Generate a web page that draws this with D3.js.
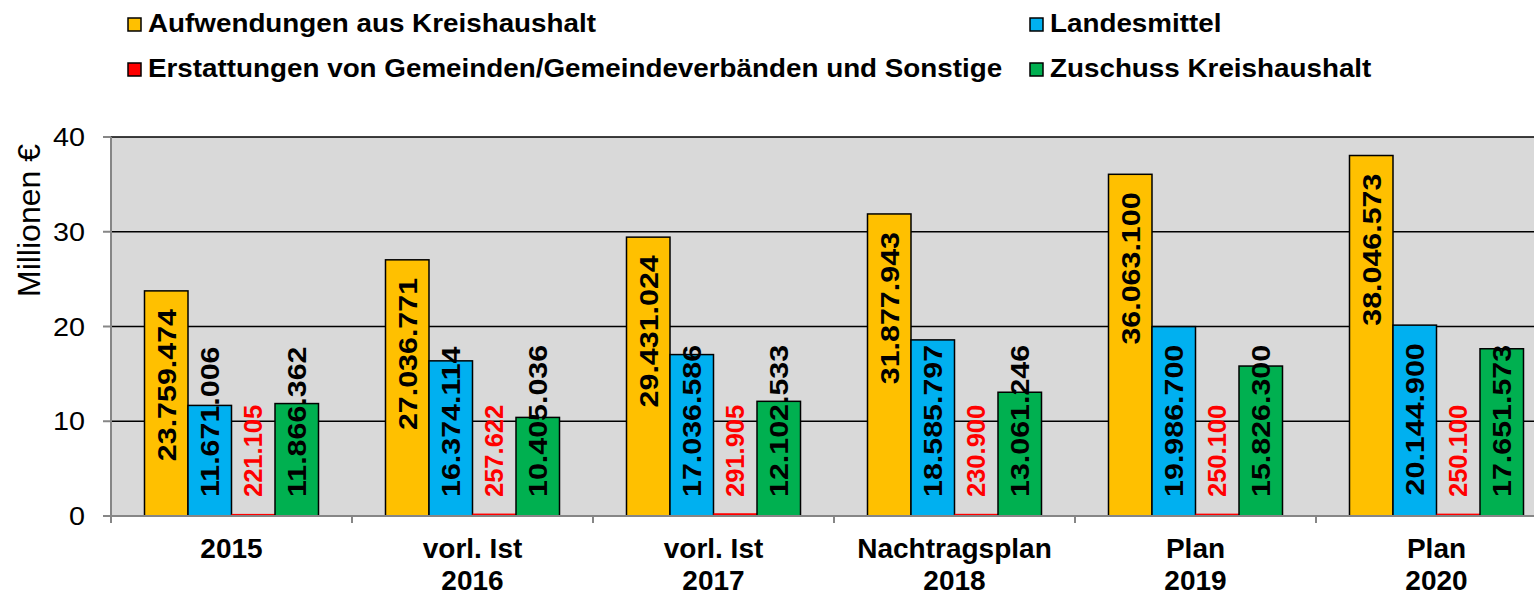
<!DOCTYPE html>
<html>
<head>
<meta charset="utf-8">
<script src="https://cdn.jsdelivr.net/npm/d3@7"></script>
<style>
  body { margin: 0; background: #fff; }
  text { font-family: Arial, "Liberation Sans", sans-serif; }
</style>
</head>
<body>
<div id="chart"></div>
<script>
const categories = [['2015'], ['vorl. Ist', '2016'], ['vorl. Ist', '2017'], ['Nachtragsplan', '2018'], ['Plan', '2019'], ['Plan', '2020']];
const seriesNames = ['Aufwendungen aus Kreishaushalt', 'Landesmittel', 'Erstattungen von Gemeinden/Gemeindeverbänden und Sonstige', 'Zuschuss Kreishaushalt'];
const seriesColors = ['#FFC000', '#00B0F0', '#FF0000', '#00B050'];
const aufwendungen = [23759474, 27036771, 29431024, 31877943, 36063100, 38046573];
const landesmittel = [11671006, 16374114, 17036586, 18585797, 19986700, 20144900];
const erstattungen = [221105, 257622, 291905, 230900, 250100, 250100];
const zuschuss = [11866362, 10405036, 12102533, 13061246, 15826300, 17651573];
const yTicks = [0, 10, 20, 30, 40];

const seriesValues = [aufwendungen, landesmittel, erstattungen, zuschuss];

const width = 1534, height = 595;
const plot = { left: 111, top: 137, bottom: 516, step: 241 };

const svg = d3.select('#chart').append('svg')
  .attr('width', width)
  .attr('height', height);

const catKeys = categories.map((c, i) => i);

const x0 = d3.scaleBand()
  .domain(catKeys)
  .range([plot.left, plot.left + plot.step * categories.length])
  .padding(0);

const x1 = d3.scaleBand()
  .domain(d3.range(seriesNames.length))
  .range([0, x0.bandwidth()])
  .paddingInner(0)
  .paddingOuter(0.77);

const y = d3.scaleLinear()
  .domain([0, 40])
  .range([plot.bottom, plot.top]);

const fmt = d3.formatLocale({ decimal: ',', thousands: '.', grouping: [3], currency: ['', ' €'] }).format(',d');

// plot background
svg.append('rect')
  .attr('x', plot.left)
  .attr('y', plot.top)
  .attr('width', width - plot.left)
  .attr('height', plot.bottom - plot.top)
  .attr('fill', '#D9D9D9');

// gridlines
svg.append('g')
  .selectAll('line')
  .data(yTicks.filter(d => d > 0))
  .enter()
  .append('line')
  .attr('x1', plot.left)
  .attr('x2', width)
  .attr('y1', d => y(d))
  .attr('y2', d => y(d))
  .attr('stroke', '#000')
  .attr('stroke-width', 1.5);

// bars
const groups = svg.append('g')
  .selectAll('g')
  .data(catKeys)
  .enter()
  .append('g')
  .attr('transform', d => `translate(${x0(d)},0)`);

groups.selectAll('rect')
  .data(ci => seriesValues.map((vals, si) => ({ si, v: vals[ci] / 1e6 })))
  .enter()
  .append('rect')
  .attr('x', d => x1(d.si))
  .attr('y', d => y(d.v))
  .attr('width', x1.bandwidth())
  .attr('height', d => y(0) - y(d.v))
  .attr('fill', d => seriesColors[d.si])
  .attr('stroke', d => d.si === 2 ? 'none' : '#000')
  .attr('stroke-width', 1.5);

// value labels, rotated
groups.each(function (ci) {
  const g = d3.select(this);
  seriesValues.forEach((vals, si) => {
    const red = si === 2;
    const fs = red ? 25 : 26;
    const sx = red ? 1.02 : 1.17;
    const cx = x1(si) + x1.bandwidth() / 2;
    const t = g.append('text')
      .attr('font-size', fs)
      .attr('font-weight', 'bold')
      .attr('fill', red ? '#FF0000' : '#000')
      .text(fmt(vals[ci]));
    const len = t.node().getComputedTextLength() * sx;
    const top = y(vals[ci] / 1e6);
    const yBase = Math.min(top + 18 + len, plot.bottom - 19);
    t.attr('transform', `translate(${cx + 0.716 * fs / 2},${yBase}) rotate(-90) scale(${sx},1)`);
  });
});

// axes lines
svg.append('line')
  .attr('x1', plot.left).attr('x2', plot.left)
  .attr('y1', plot.top).attr('y2', plot.bottom + 7)
  .attr('stroke', '#868686').attr('stroke-width', 2);

svg.append('line')
  .attr('x1', plot.left - 8).attr('x2', width)
  .attr('y1', plot.bottom).attr('y2', plot.bottom)
  .attr('stroke', '#868686').attr('stroke-width', 2);

// Y ticks + labels
const yAxis = svg.append('g');
yAxis.selectAll('line')
  .data(yTicks)
  .enter()
  .append('line')
  .attr('x1', plot.left - 8)
  .attr('x2', plot.left)
  .attr('y1', d => y(d))
  .attr('y2', d => y(d))
  .attr('stroke', '#868686')
  .attr('stroke-width', 2);

yAxis.selectAll('text')
  .data(yTicks)
  .enter()
  .append('text')
  .attr('transform', d => `translate(85,${y(d) + 9}) scale(1.15,1)`)
  .attr('text-anchor', 'end')
  .attr('font-size', 25)
  .text(d => d);

// X category ticks
svg.append('g')
  .selectAll('line')
  .data(d3.range(1, categories.length))
  .enter()
  .append('line')
  .attr('x1', d => x0.range()[0] + d * x0.step())
  .attr('x2', d => x0.range()[0] + d * x0.step())
  .attr('y1', plot.bottom)
  .attr('y2', plot.bottom + 7)
  .attr('stroke', '#868686')
  .attr('stroke-width', 2);

// X labels
svg.append('g')
  .selectAll('text')
  .data(catKeys)
  .enter()
  .append('text')
  .attr('x', d => x0(d) + x0.bandwidth() / 2)
  .attr('y', 558)
  .attr('text-anchor', 'middle')
  .attr('font-size', 28)
  .attr('font-weight', 'bold')
  .each(function (d) {
    d3.select(this).selectAll('tspan')
      .data(categories[d])
      .enter()
      .append('tspan')
      .attr('x', x0(d) + x0.bandwidth() / 2)
      .attr('dy', (l, i) => i === 0 ? 0 : 32)
      .text(l => l);
  });

// Y label
svg.append('text')
  .attr('transform', 'translate(40,297) rotate(-90)')
  .attr('font-size', 32)
  .text('Millionen €');

// legend
const legendPos = [[128, 18], [1030, 18], [128, 63], [1030, 63]];
const legend = svg.append('g')
  .selectAll('g')
  .data(seriesNames)
  .enter()
  .append('g')
  .attr('transform', (d, i) => `translate(${legendPos[i][0]},${legendPos[i][1]})`);

legend.append('rect')
  .attr('width', 13)
  .attr('height', 13)
  .attr('fill', (d, i) => seriesColors[i])
  .attr('stroke', '#000')
  .attr('stroke-width', 1.5);

legend.append('text')
  .attr('transform', 'translate(20,14) scale(1.07,1)')
  .attr('font-size', 26)
  .attr('font-weight', 'bold')
  .text(d => d);
</script>
</body>
</html>
